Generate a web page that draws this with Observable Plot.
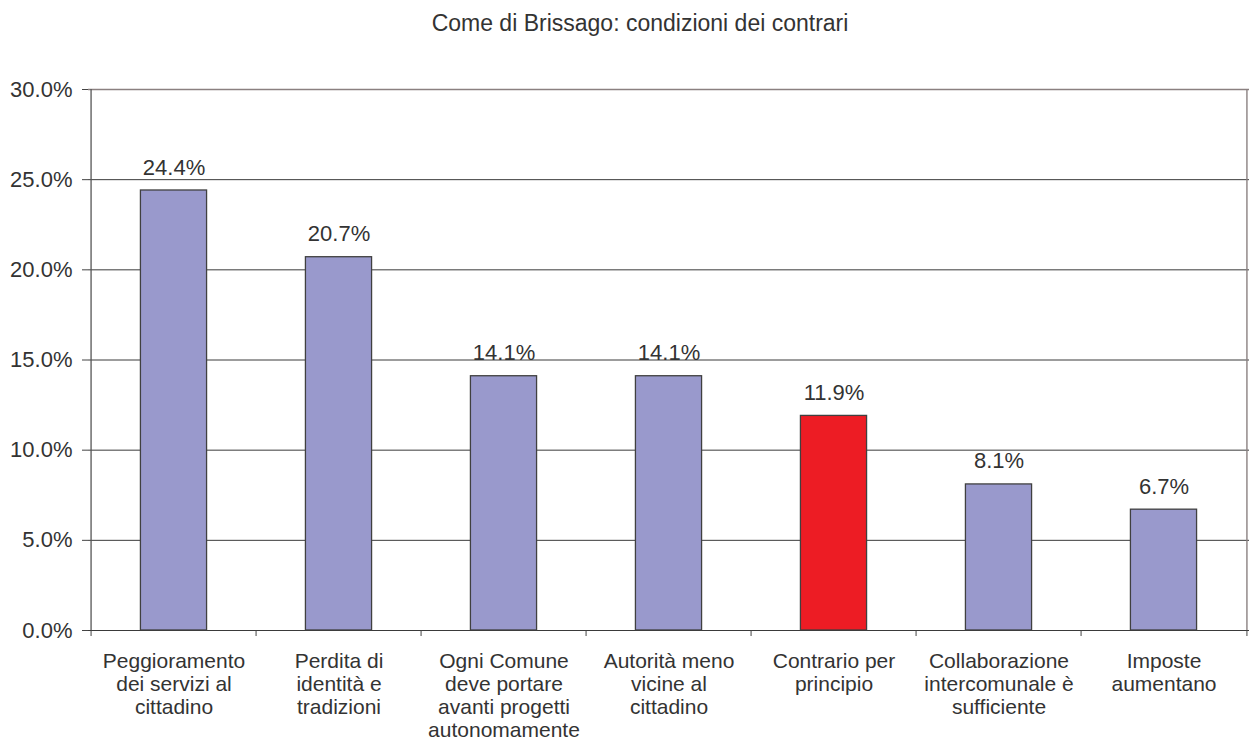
<!DOCTYPE html>
<html>
<head>
<meta charset="utf-8">
<script src="https://cdn.jsdelivr.net/npm/d3@7"></script>
<script src="https://cdn.jsdelivr.net/npm/@observablehq/plot@0.6"></script>
<style>
  html, body { margin: 0; padding: 0; background: #fff; }
  #chart svg { display: block; }
</style>
</head>
<body>
<div id="chart"></div>
<script>
const title = "Come di Brissago: condizioni dei contrari";
const categories = [
  "Peggioramento\ndei servizi al\ncittadino",
  "Perdita di\nidentità e\ntradizioni",
  "Ogni Comune\ndeve portare\navanti progetti\nautonomamente",
  "Autorità meno\nvicine al\ncittadino",
  "Contrario per\nprincipio",
  "Collaborazione\nintercomunale è\nsufficiente",
  "Imposte\naumentano"
];
const values = [24.4, 20.7, 14.1, 14.1, 11.9, 8.1, 6.7];
const highlight = [false, false, false, false, true, false, false];
const yTicks = [0, 5, 10, 15, 20, 25, 30];

const data = categories.map((c, i) => ({c, v: values[i], h: highlight[i]}));
const font = "'Liberation Sans', Arial, Helvetica, sans-serif";
const W = 1251, H = 752, mL = 88, mR = 2, mT = 89, mB = 122;
const step = (W - mL - mR) / categories.length;
const barW = 67;
const inset = (step - barW) / 2;
const tickLen = 6 * 30 / (H - mT - mB);
const first = categories[0];
const last = categories[categories.length - 1];

const chart = Plot.plot({
  width: W,
  height: H,
  marginLeft: mL,
  marginRight: mR,
  marginTop: mT,
  marginBottom: mB,
  style: {fontFamily: font, fontSize: "21px", color: "#333", background: "#fff"},
  x: {domain: categories, padding: 0, axis: null},
  y: {domain: [0, 30], axis: null},
  marks: [
    Plot.ruleY(yTicks.slice(0, -1), {stroke: "#3a3a3a", strokeWidth: 1}),
    Plot.ruleY([yTicks[yTicks.length - 1]], {stroke: "#8a8080", strokeWidth: 1.4}),
    Plot.ruleX([last], {x: d => d, dx: step / 2, stroke: "#8a8080", strokeWidth: 1.4}),
    Plot.barY(data, {
      x: "c", y: "v",
      fill: d => d.h ? "#ED1C24" : "#9999CC",
      stroke: "#404040", strokeWidth: 1.3,
      insetLeft: inset, insetRight: inset
    }),
    Plot.ruleX(categories, {x: d => d, dx: -step / 2, y1: 0, y2: -tickLen, stroke: "#444", strokeWidth: 1}),
    Plot.ruleX([last], {x: d => d, dx: step / 2, y1: 0, y2: -tickLen, stroke: "#444", strokeWidth: 1}),
    Plot.axisY({ticks: yTicks, label: null, tickSize: 6, tickPadding: 10, tickFormat: d => d.toFixed(1) + "%", stroke: "#444", fill: "#333", fontSize: 22}),
    Plot.ruleX([first], {x: d => d, dx: -step / 2, stroke: "#555", strokeWidth: 1.3}),
    Plot.text(data, {
      x: "c", y: "v", text: d => d.v.toFixed(1) + "%",
      dy: -23, lineAnchor: "middle", fill: "#333", fontSize: 22
    }),
    Plot.text(data, {
      x: "c", text: "c", frameAnchor: "bottom", lineAnchor: "top",
      dy: 21, lineHeight: 1.1, fill: "#333", fontSize: 21
    }),
    Plot.text([title], {
      frameAnchor: "top", dx: -29, dy: -66, lineAnchor: "middle",
      fill: "#333", fontSize: 23
    })
  ]
});
document.getElementById("chart").appendChild(chart);
</script>
</body>
</html>
